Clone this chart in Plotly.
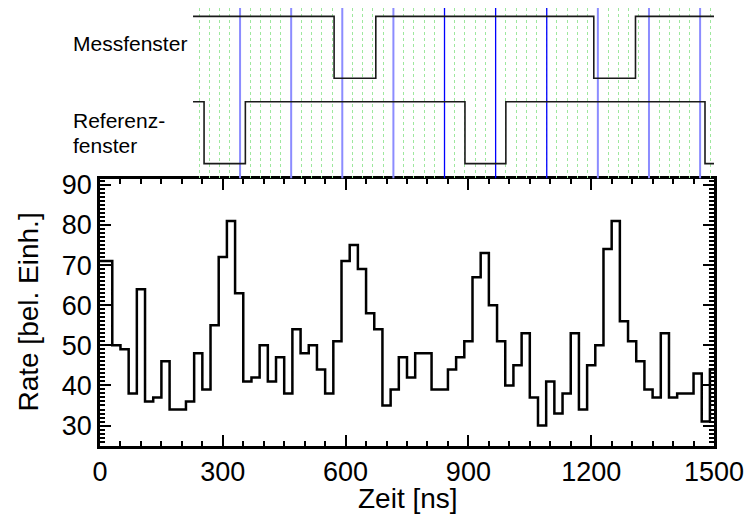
import plotly.graph_objects as go

# ---------------- data ----------------
zeit_ns = list(range(0, 1501, 20))  # bin centres (20 ns bins)
rate = [71, 71, 50, 49, 38, 64, 36, 37, 46, 34,
        34, 36, 48, 39, 55, 72, 81, 63, 41, 42,
        50, 41, 47, 38, 54, 48, 50, 44, 38, 51,
        71, 75, 69, 58, 54, 35, 39, 47, 42, 48,
        48, 39, 39, 44, 47, 51, 67, 73, 60, 51,
        40, 45, 53, 37, 30, 41, 33, 38, 53, 34,
        45, 50, 74, 81, 56, 51, 46, 39, 37, 53,
        37, 38, 38, 43, 31, 44]

x_ticks = [0, 300, 600, 900, 1200, 1500]
y_ticks = [30, 40, 50, 60, 70, 80, 90]

# gate signals (time of level change, level after change)
mess_t = [226, 571, 673, 1206, 1308, 1500]
mess_lvl = [1, 0, 1, 0, 1, 1]
ref_t = [226, 253, 354, 891, 991, 1478, 1500]
ref_lvl = [1, 0, 1, 0, 1, 0, 0]

marker_ns = [341, 466, 591, 716, 841, 966, 1091, 1216, 1341, 1466]
marker_dark = [False, False, False, False, True, True, True, False, False, False]

FONT = "Liberation Sans, Arial, sans-serif"
MESS_OFFSET = 1.38
Y2_RANGE = [-0.238, 2.516]

fig = go.Figure()

# marker lines in the top panel (drawn first, below the signals)
for dark in (False, True):
    xs, ys = [], []
    for t, d in zip(marker_ns, marker_dark):
        if d == dark:
            xs += [t, t, None]
            ys += [Y2_RANGE[0], Y2_RANGE[1], None]
    fig.add_trace(go.Scatter(
        x=xs, y=ys, mode="lines",
        line=dict(color="#0000ff" if dark else "#8c8cff", width=1.3 if dark else 2),
        xaxis="x2", yaxis="y2", showlegend=False, hoverinfo="skip"))

fig.add_trace(go.Scatter(
    x=zeit_ns, y=rate, mode="lines",
    line=dict(shape="hvh", color="black", width=2.5),
    xaxis="x", yaxis="y", showlegend=False, hoverinfo="skip"))

fig.add_trace(go.Scatter(
    x=mess_t, y=[MESS_OFFSET + v for v in mess_lvl], mode="lines",
    line=dict(shape="hv", color="#1a1a1a", width=1.6),
    xaxis="x2", yaxis="y2", showlegend=False, hoverinfo="skip"))
fig.add_trace(go.Scatter(
    x=ref_t, y=ref_lvl, mode="lines",
    line=dict(shape="hv", color="#1a1a1a", width=1.6),
    xaxis="x2", yaxis="y2", showlegend=False, hoverinfo="skip"))

annotations = [
    dict(text="Messfenster", x=-0.047, y=0.919, xref="paper", yref="paper",
         xanchor="left", yanchor="middle", showarrow=False,
         font=dict(family=FONT, size=21, color="black")),
    dict(text="Referenz-", x=-0.047, y=0.744, xref="paper", yref="paper",
         xanchor="left", yanchor="middle", showarrow=False,
         font=dict(family=FONT, size=21, color="black")),
    dict(text="fenster", x=-0.047, y=0.685, xref="paper", yref="paper",
         xanchor="left", yanchor="middle", showarrow=False,
         font=dict(family=FONT, size=21, color="black")),
    dict(text="Rate [bel. Einh.]", x=-0.117, y=0.305, xref="paper", yref="paper",
         xanchor="center", yanchor="middle", textangle=-90, showarrow=False,
         font=dict(family=FONT, size=28, color="black")),
    dict(text="Zeit [ns]", x=0.5016, y=-0.121, xref="paper", yref="paper",
         xanchor="center", yanchor="middle", showarrow=False,
         font=dict(family=FONT, size=28, color="black")),
]

axis_common = dict(
    showgrid=False, zeroline=False, showline=True, linecolor="black", linewidth=2.5,
    ticks="inside", tickcolor="black", tickwidth=2, ticklen=11, mirror="ticks",
    tickfont=dict(family=FONT, size=27, color="black"))

fig.update_layout(
    width=751, height=518,
    margin=dict(l=100, r=37, t=0, b=72, pad=0),
    paper_bgcolor="white", plot_bgcolor="white",
    showlegend=False,
    xaxis=dict(range=[0, 1500], domain=[0, 1], anchor="y",
               tickvals=x_ticks, ticktext=[str(v) for v in x_ticks],
               minor=dict(dtick=50, tick0=0, ticks="inside", ticklen=5,
                          tickwidth=2, tickcolor="black", showgrid=False),
               **axis_common),
    yaxis=dict(range=[24.9, 91.5], domain=[0, 0.6099], anchor="x",
               tickvals=y_ticks, ticktext=[str(v) for v in y_ticks],
               minor=dict(dtick=1, tick0=0, ticks="inside", ticklen=5,
                          tickwidth=1.5, tickcolor="black", showgrid=False),
               **axis_common),
    xaxis2=dict(range=[226, 1500], domain=[0.1515, 1], anchor="y2",
                showline=False, zeroline=False, showticklabels=False, ticks="",
                showgrid=True, tick0=241, dtick=25, gridcolor="#9ee89e",
                griddash="dot", gridwidth=1),
    yaxis2=dict(range=Y2_RANGE, domain=[0.611, 1], anchor="x2",
                visible=False),
    annotations=annotations,
)

fig.write_html("out.html")
